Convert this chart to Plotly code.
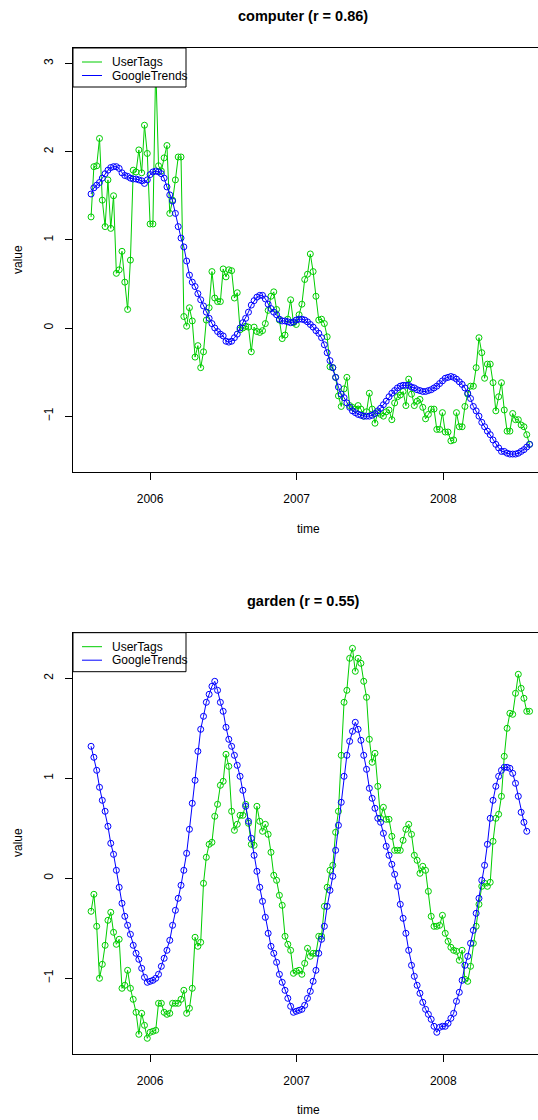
import plotly.graph_objects as go
import pandas as pd

# ---------------- data ----------------
start_date = "2005-08-07"
series_names = ["UserTags", "GoogleTrends"]
panel_titles = ["computer (r = 0.86)", "garden (r = 0.55)"]
year_ticks = ["2006-01-01", "2007-01-01", "2008-01-01"]
year_labels = ["2006", "2007", "2008"]
computer_yticks = [-1, 0, 1, 2, 3]
garden_yticks = [-1, 0, 1, 2]

computer_usertags = [
    1.26, 1.83, 1.84, 2.15, 1.45, 1.15, 1.68, 1.13, 1.50, 0.62,
    0.66, 0.87, 0.52, 0.21, 0.77, 1.79, 1.77, 2.02, 1.76, 2.30,
    1.98, 1.18, 1.18, 2.99, 1.84, 1.78, 1.93, 2.07, 1.30, 1.45,
    1.68, 1.94, 1.94, 0.13, 0.02, 0.23, 0.08, -0.33, -0.20, -0.45,
    -0.27, 0.09, 0.23, 0.64, 0.34, 0.30, 0.30, 0.67, 0.58, 0.66,
    0.65, 0.34, 0.40, -0.02, 0.00, 0.02, 0.01, -0.27, 0.01, -0.04,
    -0.05, -0.03, 0.05, 0.20, 0.36, 0.41, 0.21, 0.09, -0.12, -0.08,
    0.10, 0.32, 0.06, 0.04, 0.15, 0.27, 0.55, 0.61, 0.84, 0.64,
    0.36, 0.09, 0.10, 0.05, -0.10, -0.44, -0.45, -0.56, -0.77, -0.89,
    -0.69, -0.56, -0.88, -0.90, -0.92, -0.88, -0.92, -1.00, -0.95, -0.74,
    -0.92, -1.08, -0.96, -0.98, -1.00, -0.95, -0.93, -1.04, -0.85, -0.78,
    -0.76, -0.72, -0.88, -0.58, -0.75, -0.88, -0.83, -0.81, -0.90, -1.03,
    -0.98, -0.92, -0.92, -1.15, -1.15, -0.96, -1.18, -1.18, -1.28, -1.27,
    -0.96, -1.12, -1.12, -0.89, -0.75, -0.66, -0.66, -0.45, -0.11, -0.28,
    -0.57, -0.41, -0.41, -0.62, -0.94, -0.78, -0.62, -0.93, -1.17, -1.17,
    -0.97, -1.04, -1.04, -1.10, -1.12, -1.21, -1.32,
]

computer_google = [
    1.52, 1.59, 1.62, 1.65, 1.70, 1.75, 1.79, 1.82, 1.83, 1.83,
    1.81, 1.76, 1.73, 1.72, 1.70, 1.69, 1.69, 1.68, 1.67, 1.64,
    1.68, 1.74, 1.77, 1.78, 1.77, 1.75, 1.70, 1.60, 1.51, 1.44,
    1.30, 1.15, 1.02, 0.92, 0.76, 0.60, 0.52, 0.47, 0.39, 0.32,
    0.25, 0.18, 0.11, 0.05, 0.00, -0.04, -0.07, -0.09, -0.15, -0.16,
    -0.15, -0.11, -0.07, 0.00, 0.06, 0.11, 0.18, 0.26, 0.31, 0.35,
    0.37, 0.37, 0.33, 0.27, 0.22, 0.18, 0.15, 0.10, 0.08, 0.08,
    0.07, 0.06, 0.07, 0.09, 0.10, 0.10, 0.09, 0.07, 0.04, 0.01,
    -0.03, -0.06, -0.11, -0.19, -0.28, -0.37, -0.45, -0.56, -0.67, -0.75,
    -0.79, -0.85, -0.90, -0.94, -0.96, -0.98, -0.99, -1.00, -1.00, -1.00,
    -0.99, -0.97, -0.94, -0.91, -0.87, -0.83, -0.78, -0.74, -0.71, -0.68,
    -0.66, -0.65, -0.65, -0.65, -0.67, -0.68, -0.70, -0.71, -0.72, -0.72,
    -0.71, -0.70, -0.68, -0.66, -0.63, -0.60, -0.57, -0.56, -0.55, -0.56,
    -0.58, -0.61, -0.64, -0.68, -0.74, -0.80, -0.89, -0.94, -1.00, -1.07,
    -1.12, -1.17, -1.21, -1.27, -1.32, -1.36, -1.40, -1.40, -1.42, -1.43,
    -1.43, -1.43, -1.42, -1.40, -1.38, -1.35, -1.32,
]

garden_usertags = [
    -0.33, -0.16, -0.48, -1.00, -0.86, -0.67, -0.42, -0.34, -0.54, -0.66,
    -0.61, -1.10, -1.07, -0.92, -1.10, -1.21, -1.34, -1.56, -1.35, -1.47,
    -1.60, -1.54, -1.53, -1.52, -1.25, -1.25, -1.34, -1.36, -1.35, -1.25,
    -1.25, -1.25, -1.21, -1.12, -1.35, -1.30, -1.10, -0.59, -0.68, -0.64,
    -0.05, 0.21, 0.34, 0.36, 0.62, 0.74, 0.93, 0.97, 1.24, 1.12,
    0.67, 0.48, 0.54, 0.63, 0.63, 0.74, 0.55, 0.34, 0.33, 0.72,
    0.57, 0.47, 0.54, 0.44, 0.26, 0.03, -0.02, -0.17, -0.27, -0.58,
    -0.66, -0.72, -0.95, -0.93, -0.92, -0.96, -0.85, -0.70, -0.78, -0.75,
    -0.75, -0.58, -0.58, -0.28, -0.09, 0.08, 0.13, 0.46, 0.67, 1.23,
    1.76, 1.88, 2.20, 2.30, 2.07, 2.20, 2.15, 1.97, 1.81, 1.39,
    1.16, 1.25, 0.92, 0.60, 0.71, 0.59, 0.59, 0.42, 0.28, 0.28,
    0.28, 0.38, 0.49, 0.54, 0.44, 0.23, 0.18, 0.05, 0.12, 0.08,
    -0.13, -0.38, -0.48, -0.48, -0.47, -0.37, -0.55, -0.63, -0.69, -0.72,
    -0.73, -0.82, -0.72, -1.01, -1.03, -0.88, -0.65, -0.48, -0.26, -0.08,
    -0.05, -0.08, -0.04, 0.37, 0.60, 0.64, 0.82, 1.22, 1.50, 1.65,
    1.64, 1.85, 2.04, 1.90, 1.80, 1.67, 1.67,
]

garden_google = [
    1.32, 1.21, 1.08, 0.91, 0.78, 0.67, 0.52, 0.35, 0.24, 0.08,
    -0.09, -0.25, -0.38, -0.47, -0.56, -0.67, -0.75, -0.81, -0.90, -0.99,
    -1.04, -1.03, -1.02, -1.00, -0.96, -0.88, -0.80, -0.72, -0.62, -0.47,
    -0.32, -0.20, -0.07, 0.08, 0.25, 0.49, 0.75, 0.98, 1.27, 1.49,
    1.62, 1.76, 1.84, 1.92, 1.97, 1.88, 1.76, 1.67, 1.51,
    1.39, 1.32, 1.23, 1.13, 1.02, 0.88, 0.72, 0.57, 0.40, 0.23,
    0.07, -0.09, -0.23, -0.39, -0.55, -0.68, -0.75, -0.84, -0.96, -1.04,
    -1.12, -1.20, -1.28, -1.34, -1.33, -1.32, -1.31, -1.27, -1.20,
    -1.13, -1.03, -0.92, -0.75, -0.61, -0.48, -0.28, -0.12, 0.02, 0.28,
    0.53, 0.76, 1.02, 1.23, 1.37, 1.47, 1.56, 1.49, 1.38,
    1.23, 1.09, 0.90, 0.80, 0.70, 0.60, 0.56, 0.45, 0.32, 0.23,
    0.14, 0.04, -0.08, -0.26, -0.40, -0.55, -0.72, -0.87, -0.98, -1.07,
    -1.15, -1.24, -1.31, -1.36, -1.41, -1.48, -1.54, -1.49, -1.48, -1.48,
    -1.45, -1.40, -1.35, -1.23, -1.14, -1.02, -0.87, -0.78, -0.65, -0.52,
    -0.35, -0.20, -0.02, 0.13, 0.34, 0.60, 0.78, 0.92, 1.02, 1.08,
    1.11, 1.11, 1.10, 1.05, 0.95, 0.82, 0.66, 0.56, 0.47,
]

# ---------------- styling ----------------
W, H = 538, 1120
GREEN = "#00CD00"
BLUE = "#0000FF"
FONT = "Liberation Sans, Arial, Helvetica, sans-serif"


def px_x(p):
    return p / W


def px_y(p):
    return 1 - p / H


panels = [
    dict(ut=computer_usertags, gt=computer_google, top=48.0, bottom=471.7,
         yr=[-1.630, 3.176], yt=computer_yticks, title=panel_titles[0],
         title_y=16, xlab_y=529, ylab_y=260),
    dict(ut=garden_usertags, gt=garden_google, top=632.7, bottom=1054.0,
         yr=[-1.757, 2.456], yt=garden_yticks, title=panel_titles[1],
         title_y=601, xlab_y=1110, ylab_y=843),
]

fig = go.Figure()
shapes = []
annotations = []
layout = dict(
    width=W, height=H, margin=dict(l=0, r=0, t=0, b=0),
    paper_bgcolor="white", plot_bgcolor="white", showlegend=False,
    font=dict(family=FONT, size=12, color="black"),
)

PLOT_LEFT = 73.0
for k, p in enumerate(panels):
    sfx = "" if k == 0 else str(k + 1)
    xa, ya = "x" + sfx, "y" + sfx
    for vals, name, col in [(p["ut"], series_names[0], GREEN), (p["gt"], series_names[1], BLUE)]:
        dates = pd.date_range(start_date, periods=len(vals), freq="7D")
        fig.add_trace(go.Scatter(
            x=dates, y=vals, name=name, mode="lines+markers",
            line=dict(color=col, width=1),
            marker=dict(symbol="circle-open", size=6, color=col, line=dict(width=1, color=col)),
            xaxis=xa, yaxis=ya, showlegend=False,
        ))
    layout["xaxis" + sfx] = dict(
        domain=[px_x(PLOT_LEFT), 1.0], type="date",
        range=["2005-06-23", "2008-08-24"], anchor=ya,
        tickmode="array", tickvals=year_ticks, ticktext=year_labels,
        ticks="outside", ticklen=7, tickcolor="black", tickwidth=1,
        showline=True, linecolor="black", linewidth=1, mirror=True,
        showgrid=False, zeroline=False, ticklabelstandoff=9,
        tickfont=dict(size=12, family=FONT, color="black"),
    )
    layout["yaxis" + sfx] = dict(
        domain=[px_y(p["bottom"]), px_y(p["top"])], range=p["yr"], anchor=xa,
        tickmode="array", tickvals=p["yt"], ticktext=[str(v).replace("-", "\u2212") for v in p["yt"]],
        ticks="outside", ticklen=7, tickcolor="black", tickwidth=1,
        showline=True, linecolor="black", linewidth=1, mirror=False,
        showgrid=False, zeroline=False, tickangle=-90, ticklabelstandoff=7,
        tickfont=dict(size=12, family=FONT, color="black"),
    )
    # title and axis labels
    annotations.append(dict(text="<b>%s</b>" % p["title"], x=px_x(303), y=px_y(p["title_y"]),
                            xref="paper", yref="paper", showarrow=False,
                            xanchor="center", yanchor="middle",
                            font=dict(size=14.5, family=FONT, color="black")))
    annotations.append(dict(text="time", x=px_x(308), y=px_y(p["xlab_y"]),
                            xref="paper", yref="paper", showarrow=False,
                            xanchor="center", yanchor="middle",
                            font=dict(size=12, family=FONT, color="black")))
    annotations.append(dict(text="value", x=px_x(18), y=px_y(p["ylab_y"]),
                            xref="paper", yref="paper", showarrow=False, textangle=-90,
                            xanchor="center", yanchor="middle",
                            font=dict(size=12, family=FONT, color="black")))
    # legend box (R style)
    lt = p["top"]
    shapes.append(dict(type="rect", xref="paper", yref="paper", layer="above",
                       x0=px_x(PLOT_LEFT), x1=px_x(PLOT_LEFT + 113),
                       y0=px_y(lt + 39), y1=px_y(lt),
                       line=dict(color="black", width=1), fillcolor="white"))
    for j, (name, col) in enumerate([(series_names[0], GREEN), (series_names[1], BLUE)]):
        yy = lt + 14 + 13.5 * j
        shapes.append(dict(type="line", xref="paper", yref="paper", layer="above",
                           x0=px_x(PLOT_LEFT + 9), x1=px_x(PLOT_LEFT + 29),
                           y0=px_y(yy), y1=px_y(yy), line=dict(color=col, width=1)))
        annotations.append(dict(text=name, x=px_x(PLOT_LEFT + 37), y=px_y(yy),
                                xref="paper", yref="paper", showarrow=False,
                                xanchor="left", yanchor="middle",
                                font=dict(size=12, family=FONT, color="black")))

layout["shapes"] = shapes
layout["annotations"] = annotations
fig.update_layout(**layout)
fig.write_html("out.html")
